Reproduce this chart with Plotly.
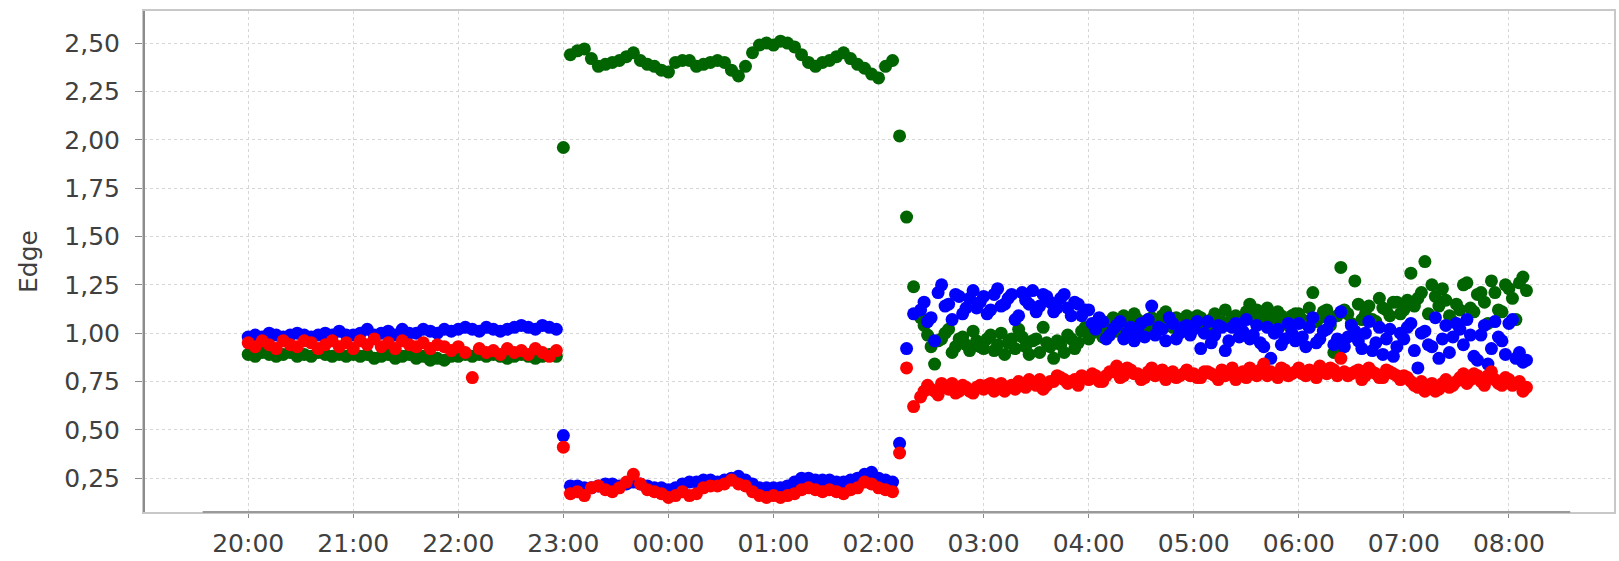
import pandas as pd
import plotly.graph_objects as go

# ---- data: main samples every 4 minutes from 20:00 ----
start_time = "2021-01-01 20:00"
sample_step = "4min"

green = [
    0.89, 0.88, 0.90, 0.89, 0.88, 0.89, 0.90, 0.88, 0.89, 0.88, 0.90, 0.89, 0.88, 0.89, 0.88,
    0.89, 0.88, 0.89, 0.87, 0.88, 0.89, 0.87, 0.88, 0.89, 0.87, 0.88, 0.86, 0.87, 0.86, 0.88,
    0.88, 0.89, 0.88, 0.89, 0.88, 0.89, 0.88, 0.87, 0.88, 0.89, 0.88, 0.87, 0.88, 0.89, 0.88,
    1.96, 2.44, 2.46, 2.47, 2.42, 2.38, 2.39, 2.40, 2.41, 2.43, 2.45, 2.41, 2.39, 2.38, 2.36,
    2.35, 2.40, 2.41, 2.41, 2.38, 2.39, 2.40, 2.41, 2.40, 2.36, 2.33, 2.38, 2.45, 2.49, 2.50,
    2.49, 2.51, 2.50, 2.48, 2.44, 2.40, 2.38, 2.40, 2.41, 2.43, 2.45, 2.42, 2.39, 2.37, 2.34,
    2.32, 2.38, 2.41, 2.02, 1.60, 1.24, 1.08, 0.99, 0.84, 0.97, 1.02, 0.93, 0.98, 0.91, 0.96,
    0.92, 0.99, 0.94, 0.89, 0.97, 1.02, 0.93, 0.96, 0.90, 0.95, 0.87, 0.94, 0.99, 0.92, 1.01,
    0.97, 1.03, 0.98, 1.06, 1.01, 1.09, 1.04, 1.07, 1.02, 1.08, 1.05, 1.11, 1.03, 1.06, 1.09,
    1.05, 1.08, 1.03, 1.10, 1.06, 1.04, 1.09, 1.07, 1.15, 1.12, 1.05, 1.08, 1.11, 1.06, 1.09,
    1.10, 1.05, 1.21, 1.08, 1.12, 0.90, 1.34, 1.10, 1.27, 1.07, 1.14, 1.06, 1.13, 1.09, 1.16,
    1.12, 1.31, 1.18, 1.37, 1.25, 1.14, 1.17, 1.06, 1.12, 1.26, 1.11, 1.21, 1.05, 1.21, 1.11,
    1.23, 1.07, 1.29,
]

blue = [
    0.98, 0.99, 0.98, 1.00, 0.99, 0.98, 0.99, 1.00, 0.99, 0.98, 0.99, 1.00, 0.99, 1.01, 0.99,
    0.99, 1.00, 1.02, 0.99, 1.00, 1.01, 0.99, 1.02, 1.00, 1.00, 1.02, 1.01, 1.00, 1.02, 1.01,
    1.02, 1.03, 1.02, 1.01, 1.03, 1.02, 1.01, 1.02, 1.03, 1.04, 1.03, 1.02, 1.04, 1.03, 1.02,
    0.47, 0.21, 0.21, 0.20, 0.20, 0.21, 0.22, 0.22, 0.21, 0.22, 0.23, 0.22, 0.21, 0.20, 0.20,
    0.19, 0.20, 0.22, 0.23, 0.23, 0.24, 0.24, 0.23, 0.24, 0.25, 0.26, 0.24, 0.22, 0.20, 0.20,
    0.20, 0.20, 0.21, 0.23, 0.25, 0.25, 0.24, 0.24, 0.24, 0.23, 0.23, 0.24, 0.25, 0.27, 0.28,
    0.25, 0.24, 0.23, 0.43, 0.92, 1.10, 1.12, 1.06, 0.96, 1.25, 1.15, 1.20, 1.10, 1.18, 1.13,
    1.19, 1.12, 1.23, 1.15, 1.20, 1.09, 1.17, 1.22, 1.14, 1.19, 1.11, 1.18, 1.13, 1.16, 1.09,
    1.12, 1.02, 1.06, 0.99, 1.04, 0.97, 1.03, 1.01, 0.98, 1.14, 1.03, 0.96, 1.05, 1.00, 1.04,
    1.02, 0.92, 1.06, 0.99, 1.03, 0.96, 1.05, 1.01, 0.97, 1.04, 0.93, 0.87, 1.02, 0.97, 1.00,
    1.05, 0.93, 1.08, 0.97, 1.02, 0.94, 1.11, 0.98, 1.01, 0.92, 1.06, 0.95, 0.89, 1.02, 0.93,
    0.97, 1.05, 0.82, 1.01, 0.93, 0.87, 1.04, 0.98, 1.02, 1.07, 0.88, 0.99, 0.84, 1.06, 0.96,
    1.05, 0.87, 0.85,
]

red = [
    0.95, 0.93, 0.96, 0.94, 0.92, 0.96, 0.94, 0.93, 0.96, 0.95, 0.92, 0.94, 0.96, 0.93, 0.95,
    0.92, 0.96, 0.94, 0.97, 0.93, 0.95, 0.92, 0.96, 0.94, 0.93, 0.95, 0.92, 0.94, 0.93, 0.91,
    0.93, 0.90, 0.77, 0.92, 0.90, 0.91, 0.89, 0.92, 0.90, 0.91, 0.89, 0.92, 0.90, 0.88, 0.91,
    0.41, 0.17, 0.18, 0.16, 0.20, 0.21, 0.19, 0.18, 0.20, 0.23, 0.27, 0.22, 0.19, 0.18, 0.17,
    0.15, 0.16, 0.18, 0.16, 0.17, 0.20, 0.21, 0.21, 0.22, 0.24, 0.22, 0.21, 0.18, 0.16, 0.15,
    0.16, 0.15, 0.16, 0.17, 0.19, 0.20, 0.19, 0.18, 0.19, 0.18, 0.17, 0.19, 0.20, 0.23, 0.22,
    0.20, 0.19, 0.18, 0.38, 0.82, 0.62, 0.67, 0.73, 0.70, 0.74, 0.71, 0.69, 0.73, 0.70, 0.72,
    0.71, 0.74, 0.72, 0.70, 0.73, 0.75, 0.72, 0.74, 0.76, 0.73, 0.75, 0.77, 0.74, 0.76, 0.78,
    0.76, 0.78, 0.75, 0.80, 0.83, 0.78, 0.81, 0.79, 0.77, 0.82, 0.79, 0.76, 0.80, 0.78, 0.81,
    0.79, 0.77, 0.80, 0.78, 0.81, 0.79, 0.76, 0.80, 0.82, 0.78, 0.84, 0.80, 0.77, 0.81, 0.79,
    0.82, 0.78, 0.80, 0.83, 0.79, 0.81, 0.87, 0.78, 0.80, 0.76, 0.82, 0.79, 0.77, 0.80, 0.78,
    0.78, 0.75, 0.72, 0.70, 0.74, 0.71, 0.76, 0.73, 0.77, 0.74, 0.79, 0.75, 0.78, 0.76, 0.73,
    0.76, 0.74, 0.70,
]

# ---- extra samples in the noisy period, every 4 minutes from 02:26 ----
late_start_time = "2021-01-02 02:26"

green_late = [
    1.04, 0.93, 0.96, 1.00, 0.90, 0.97, 0.94, 1.01, 0.93,
    0.97, 0.91, 1.00, 0.95, 0.92, 0.98, 0.89, 0.97, 1.03, 0.93, 0.96, 0.90, 0.97, 0.95, 1.03,
    1.00, 1.05, 1.02, 1.08, 1.04, 1.06, 1.10, 1.03, 1.07, 1.04, 1.09, 1.06, 1.08, 1.04, 1.07,
    1.09, 1.04, 1.07, 1.05, 1.12, 1.08, 1.05, 1.11, 1.07, 1.09, 1.13, 1.06, 1.09, 1.04, 1.10,
    1.07, 1.13, 1.06, 1.11, 1.04, 1.09, 1.12, 1.05, 1.15, 1.10, 1.07, 1.18, 1.12, 1.16, 1.10,
    1.17, 1.14, 1.21, 1.10, 1.19, 1.23, 1.09, 1.15, 1.25, 1.13, 1.20, 1.16, 1.27, 1.12, 1.25,
    1.18, 1.26, 1.22,
]

blue_late = [
    1.16, 1.08, 1.21, 1.14, 1.07, 1.19, 1.13, 1.22, 1.16,
    1.10, 1.20, 1.14, 1.18, 1.07, 1.21, 1.15, 1.11, 1.20, 1.16, 1.13, 1.20, 1.09, 1.15, 1.12,
    1.05, 1.08, 0.97, 1.02, 1.06, 1.00, 0.96, 1.05, 1.07, 0.99, 1.02, 1.08, 0.97, 1.03, 0.99,
    1.06, 1.00, 0.95, 1.04, 0.91, 1.03, 0.98, 1.07, 0.99, 0.95, 1.03, 1.00, 0.94, 1.05, 0.96,
    0.98, 1.03, 0.95, 1.01, 1.06, 0.97, 0.93, 1.04, 0.96, 1.00, 0.91, 1.03, 0.97, 0.88, 1.00,
    1.03, 0.91, 1.00, 0.94, 1.08, 0.97, 0.90, 1.05, 0.94, 0.99, 0.86, 1.04, 0.92, 0.98, 0.89,
    1.07, 0.90, 0.86,
]

red_late = [
    0.70, 0.71, 0.68, 0.72, 0.74, 0.70, 0.72, 0.69, 0.73,
    0.73, 0.70, 0.74, 0.72, 0.71, 0.74, 0.76, 0.73, 0.71, 0.75, 0.78, 0.76, 0.75, 0.73, 0.77,
    0.79, 0.75, 0.78, 0.80, 0.77, 0.82, 0.79, 0.76, 0.80, 0.78, 0.81, 0.79, 0.77, 0.79, 0.78,
    0.77, 0.80, 0.79, 0.76, 0.78, 0.82, 0.79, 0.77, 0.80, 0.81, 0.78, 0.79, 0.82, 0.78, 0.80,
    0.79, 0.81, 0.77, 0.80, 0.82, 0.78, 0.80, 0.79, 0.81, 0.78, 0.80, 0.77, 0.81, 0.79, 0.76,
    0.77, 0.73, 0.75, 0.72, 0.70, 0.74, 0.72, 0.75, 0.79, 0.76, 0.78, 0.73, 0.80, 0.74, 0.77,
    0.73, 0.75, 0.72,
]

x_tick_labels = ["20:00", "21:00", "22:00", "23:00", "00:00", "01:00", "02:00",
                 "03:00", "04:00", "05:00", "06:00", "07:00", "08:00"]
y_tick_values = [0.25, 0.50, 0.75, 1.00, 1.25, 1.50, 1.75, 2.00, 2.25, 2.50]

series = [
    ("green", green, green_late, "#006400"),
    ("blue", blue, blue_late, "#0000ff"),
    ("red", red, red_late, "#ff0000"),
]

times = list(pd.date_range(start_time, periods=len(green), freq=sample_step))
late_times = list(pd.date_range(late_start_time, periods=len(green_late), freq=sample_step))
tick_times = pd.date_range(start_time, periods=len(x_tick_labels), freq="1h")

fig = go.Figure()
for name, vals, late_vals, color in series:
    fig.add_trace(go.Scatter(
        x=times + late_times, y=vals + late_vals, mode="markers", name=name,
        marker=dict(size=13, color=color, line=dict(width=0)),
    ))

font_family = "DejaVu Sans"
fig.update_layout(
    width=1619, height=561,
    margin=dict(l=144, r=3, t=11, b=36),
    paper_bgcolor="white", plot_bgcolor="white",
    showlegend=False,
    separators=",.",
    font=dict(family=font_family, size=25, color="#404040"),
)

fig.update_xaxes(
    range=["2021-01-01 19:00:30", "2021-01-02 09:00:00"],
    tickvals=tick_times, ticktext=x_tick_labels,
    showgrid=True, gridcolor="#d6d6d6", gridwidth=1, griddash="dot",
    ticks="outside", ticklen=4, tickcolor="#8a8a8a", tickwidth=1,
    showline=True, linecolor="#c8c8c8", linewidth=2, mirror=True,
    zeroline=False, ticklabelstandoff=4,
    tickfont=dict(family=font_family, size=25, color="#404040"),
)
fig.update_yaxes(
    range=[0.075, 2.666],
    tickvals=y_tick_values, tickformat=".2f",
    showgrid=True, gridcolor="#d6d6d6", gridwidth=1, griddash="dot",
    ticks="outside", ticklen=7, tickcolor="#8a8a8a", tickwidth=1,
    showline=True, linecolor="#c8c8c8", linewidth=2, mirror=True,
    zeroline=False, ticklabelstandoff=10,
    tickfont=dict(family=font_family, size=25, color="#404040"),
    title=dict(text="Edge", standoff=20, font=dict(family=font_family, size=25, color="#404040")),
)

# darker axis lines (left and bottom)
fig.add_shape(type="line", xref="paper", yref="paper", x0=0, x1=0, y0=0, y1=1,
              line=dict(color="#8c8c8c", width=2))
fig.add_shape(type="line", xref="x", yref="paper",
              x0="2021-01-01 19:34", x1="2021-01-02 08:35", y0=0, y1=0,
              line=dict(color="#9a9a9a", width=2))

fig.write_html("out.html")
